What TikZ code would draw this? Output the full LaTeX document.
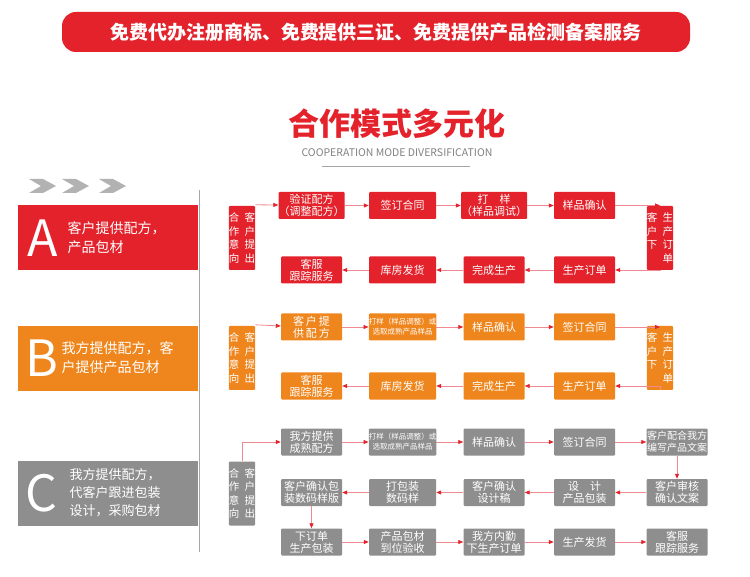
\documentclass[tikz,border=0pt]{standalone}
\usepackage{fontspec}
\setmainfont{Noto Sans CJK SC}
\usetikzlibrary{arrows.meta,calc}
\definecolor{cred}{HTML}{E3222B}
\definecolor{corg}{HTML}{EF861D}
\definecolor{cgry}{HTML}{8E8E8E}
\definecolor{cline}{HTML}{F08A92}
\tikzset{
 bx/.style={draw=none,fill=#1,text=white,minimum width=61pt,minimum height=27pt,inner sep=0pt,align=center,font=\fontsize{11}{12}\selectfont,rounded corners=1pt},
 wbx/.style={bx=#1,minimum width=67pt},
 vbx/.style={bx=#1,minimum width=26pt,minimum height=64pt,font=\fontsize{10.5}{13.5}\selectfont},
 ar/.style={draw=cline,line width=0.8pt,-{Triangle[length=5pt,width=4pt,fill=cred,color=cred]}},
 side/.style={fill=#1,minimum width=180pt,minimum height=65pt,inner sep=0pt,anchor=north west},
}
\newcommand{\vtxt}{合\enspace 客\\作\enspace 户\\意\enspace 提\\向\enspace 出}
\newcommand{\vord}{客\enspace 生\\户\enspace 产\\下\enspace 订\\\phantom{下}\enspace 单}
\begin{document}
\begin{tikzpicture}[x=1pt,y=-1pt]
\useasboundingbox (0,0) rectangle (750,577);
% banner
\node[fill=cred,rounded corners=14pt,minimum width=628pt,minimum height=40pt,text=white,font=\fontsize{19}{19}\bfseries\selectfont] (banner) at (376,32) {免费代办注册商标、免费提供三证、免费提供产品检测备案服务};
\node[text=cred,font=\fontsize{31}{31}\bfseries\selectfont] (title) at (397,124) {合作模式多元化};
\node[text=gray,font=\fontsize{10.5}{10.5}\selectfont] (sub) at (397,153) {COOPERATION MODE DIVERSIFICATION};
\coordinate (ul1) at (322,166); \coordinate (ul2) at (470,166);
\draw[gray!70,line width=0.6pt] (ul1) -- (ul2);
% chevrons
\foreach \i/\x in {1/29,2/62,3/99}{
 \fill[gray!60] (\x,179) -- (\x+14,179) -- (\x+27,186) -- (\x+14,193) -- (\x,193) -- (\x+12,186) -- cycle;}
% vertical line
\coordinate (v1) at (199,190); \coordinate (v2) at (199,552);
\draw[gray!70,line width=1pt] (v1) -- (v2);
% side boxes
\node[side=cred] (A) at (18,205) {};
\node[side=corg] (B) at (18,326) {};
\node[side=cgry] (C) at (18,461) {};
\node[text=white,font=\fontsize{50}{50}\selectfont,anchor=west] (Al) at (24,238) {A};
\node[text=white,font=\fontsize{14}{19}\selectfont,align=left,anchor=west] (At) at (64,238) {客户提供配方，\\产品包材};
\node[text=white,font=\fontsize{50}{50}\selectfont,anchor=west] (Bl) at (22,358) {B};
\node[text=white,font=\fontsize{14}{19}\selectfont,align=left,anchor=west] (Bt) at (58,358) {我方提供配方，客\\户提供产品包材};
\node[text=white,font=\fontsize{50}{50}\selectfont,anchor=west] (Cl) at (22,493) {C};
\node[text=white,font=\fontsize{13}{18}\selectfont,align=left,anchor=west] (Ct) at (66,493) {我方提供配方，\\代客户跟进包装\\设计，采购包材};
% ---------- A ----------
\node[vbx=cred] (a0) at (242,238) {\vtxt};
\node[bx=cred] (a1) at (311.5,205.5) {验证配方\\（调整配方）};
\node[wbx=cred] (a2) at (402.5,205.5) {签订合同};
\node[bx=cred] (a3) at (494,205.5) {打\quad 样\\（样品调试）};
\node[bx=cred] (a4) at (584.5,205.5) {样品确认};
\node[vbx=cred] (a5) at (660,238) {\vord};
\node[bx=cred] (a9) at (584.5,270) {生产订单};
\node[bx=cred] (a8) at (494,270) {完成生产};
\node[wbx=cred] (a7) at (402.5,270) {库房发货};
\node[bx=cred] (a6) at (311.5,270) {客服\\跟踪服务};
\draw[ar] (a0.north east) ++(0,-1) -- (a1.west |- 0,205);
\draw[ar] (a1) -- (a2); \draw[ar] (a2) -- (a3); \draw[ar] (a3) -- (a4);
\draw[ar] (a4.east) -- (a5.north |- a4.east);
\draw[ar] (a5.south) |- (a9.east);
\draw[ar] (a9) -- (a8); \draw[ar] (a8) -- (a7); \draw[ar] (a7) -- (a6);
% ---------- B ----------
\node[vbx=corg] (b0) at (242,358) {\vtxt};
\node[bx=corg] (b1) at (311.5,327) {客\,户\,提\\供\,配\,方};
\node[wbx=corg,font=\fontsize{7.5}{10}\selectfont] (b2) at (402.5,327) {打样（样品调整）或\\选取成熟产品样品};
\node[bx=corg] (b3) at (494,327) {样品确认};
\node[bx=corg] (b4) at (584.5,327) {签订合同};
\node[vbx=corg] (b5) at (660,358) {\vord};
\node[bx=corg] (b9) at (584.5,386) {生产订单};
\node[bx=corg] (b8) at (494,386) {完成生产};
\node[wbx=corg] (b7) at (402.5,386) {库房发货};
\node[bx=corg] (b6) at (311.5,386) {客服\\跟踪服务};
\draw[ar] (b0.north east) ++(0,-1) -- (b1.west |- 0,326);
\draw[ar] (b1) -- (b2); \draw[ar] (b2) -- (b3); \draw[ar] (b3) -- (b4);
\draw[ar] (b4.east) -- (b5.north |- b4.east);
\draw[ar] (b5.south) |- (b9.east);
\draw[ar] (b9) -- (b8); \draw[ar] (b8) -- (b7); \draw[ar] (b7) -- (b6);
% ---------- C ----------
\node[vbx=cgry] (c0) at (242,493.5) {\vtxt};
\node[bx=cgry] (c1) at (311.5,442) {我方提供\\成熟配方};
\node[wbx=cgry,font=\fontsize{7.5}{10}\selectfont] (c2) at (402.5,442) {打样（样品调整）或\\选取成熟产品样品};
\node[bx=cgry] (c3) at (494,442) {样品确认};
\node[bx=cgry] (c4) at (584.5,442) {签订合同};
\node[bx=cgry,font=\fontsize{10}{12}\selectfont] (c5) at (677,442) {客户配合我方\\编写产品文案};
\node[bx=cgry] (c6) at (677,492.5) {客户审核\\确认文案};
\node[bx=cgry] (c7) at (584.5,492.5) {设\quad 计\\产品包装};
\node[bx=cgry] (c8) at (494,492.5) {客户确认\\设计稿};
\node[wbx=cgry] (c9) at (402.5,492.5) {打包装\\数码样};
\node[bx=cgry] (c10) at (311.5,492.5) {客户确认包\\装数码样版};
\node[bx=cgry] (c11) at (311.5,542) {下订单\\生产包装};
\node[wbx=cgry] (c12) at (402.5,542) {产品包材\\到位验收};
\node[bx=cgry] (c13) at (494,542) {我方内勤\\下生产订单};
\node[bx=cgry] (c14) at (584.5,542) {生产发货};
\node[bx=cgry] (c15) at (677,542) {客服\\跟踪服务};
\draw[ar] (c0.north) |- (c1.west);
\draw[ar] (c1) -- (c2); \draw[ar] (c2) -- (c3); \draw[ar] (c3) -- (c4); \draw[ar] (c4) -- (c5);
\draw[ar] (c5) -- (c6);
\draw[ar] (c6) -- (c7); \draw[ar] (c7) -- (c8); \draw[ar] (c8) -- (c9); \draw[ar] (c9) -- (c10);
\draw[ar] (c10) -- (c11);
\draw[ar] (c11) -- (c12); \draw[ar] (c12) -- (c13); \draw[ar] (c13) -- (c14); \draw[ar] (c14) -- (c15);
\end{tikzpicture}
\end{document}
